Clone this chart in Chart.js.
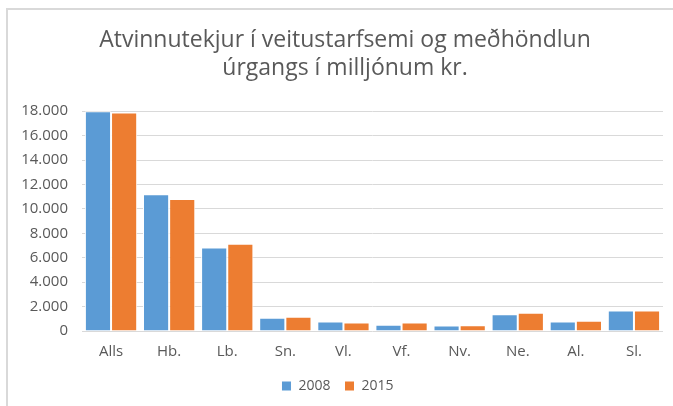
<!DOCTYPE html>
<html>
<head>
<meta charset="utf-8">
<script src="https://cdn.jsdelivr.net/npm/chart.js@4"></script>
<style>
  body { margin: 0; background: #fff; }
  #frame { position: absolute; left: 6px; top: 8px; width: 700px; height: 420px;
           border-left: 2px solid #d9d9d9; border-top: 2px solid #d9d9d9; }
  #wrap { position: absolute; left: 0; top: 0; width: 673px; height: 406px; }
</style>
</head>
<body>
<div id="frame"></div>
<div id="wrap"><canvas id="chart" width="673" height="406"></canvas></div>
<script>
// Svæði (regions)
var categories = ['Alls', 'Hb.', 'Lb.', 'Sn.', 'Vl.', 'Vf.', 'Nv.', 'Ne.', 'Al.', 'Sl.'];
var values2008 = [18000, 11200, 6830, 1080, 780, 520, 450, 1370, 770, 1680];
var values2015 = [17900, 10800, 7140, 1170, 700, 700, 470, 1500, 840, 1680];
var yTicks = [0, 2000, 4000, 6000, 8000, 10000, 12000, 14000, 16000, 18000];

var grey = '#595959';
Chart.defaults.font.family = '"Open Sans", sans-serif';
Chart.defaults.color = grey;

function fmt(v) {
    return v.toString().replace(/\B(?=(\d{3})+(?!\d))/g, '.');
}

// titillinn er aðeins til hægri í frumritinu
var shiftTitle = {
    id: 'shiftTitle',
    afterLayout: function(chart) {
        if (chart.titleBlock) chart.titleBlock.left += 15;
    }
};

var ctx = document.getElementById('chart').getContext('2d');
var chart = new Chart(ctx, {
    type: 'bar',
    data: {
        labels: categories,
        datasets: [{
            label: '2008',
            data: values2008,
            backgroundColor: '#5B9BD5',
            borderColor: '#ffffff',
            borderWidth: 1,
            categoryPercentage: 0.9,
            barPercentage: 1
        }, {
            label: '2015',
            data: values2015,
            backgroundColor: '#ED7D31',
            borderColor: '#ffffff',
            borderWidth: 1,
            categoryPercentage: 0.9,
            barPercentage: 1
        }]
    },
    options: {
        responsive: false,
        animation: false,
        layout: { padding: { left: 12, right: 10, bottom: 3 } },
        plugins: {
            title: {
                display: true,
                text: ['Atvinnutekjur í veitustarfsemi og meðhöndlun', 'úrgangs í milljónum kr.'],
                font: { size: 23, weight: 'normal' },
                lineHeight: 1.3,
                color: grey,
                padding: { top: 27, bottom: 29 }
            },
            legend: {
                position: 'bottom',
                labels: {
                    boxWidth: 10,
                    boxHeight: 10,
                    font: { size: 14 },
                    padding: 14
                }
            },
            tooltip: { enabled: false }
        },
        scales: {
            x: {
                grid: { display: false },
                border: { display: false },
                ticks: { font: { size: 15 }, padding: 4 }
            },
            y: {
                min: 0,
                max: 18000,
                afterBuildTicks: function(axis) {
                    axis.ticks = yTicks.map(function(v) { return { value: v }; });
                },
                afterFit: function(axis) { axis.width = 70; },
                grid: { color: '#d9d9d9', lineWidth: 1, drawTicks: false },
                border: { display: false },
                ticks: {
                    font: { size: 15 },
                    padding: 14,
                    callback: function(v) { return fmt(v); }
                }
            }
        }
    },
    plugins: [shiftTitle]
});
</script>
</body>
</html>
